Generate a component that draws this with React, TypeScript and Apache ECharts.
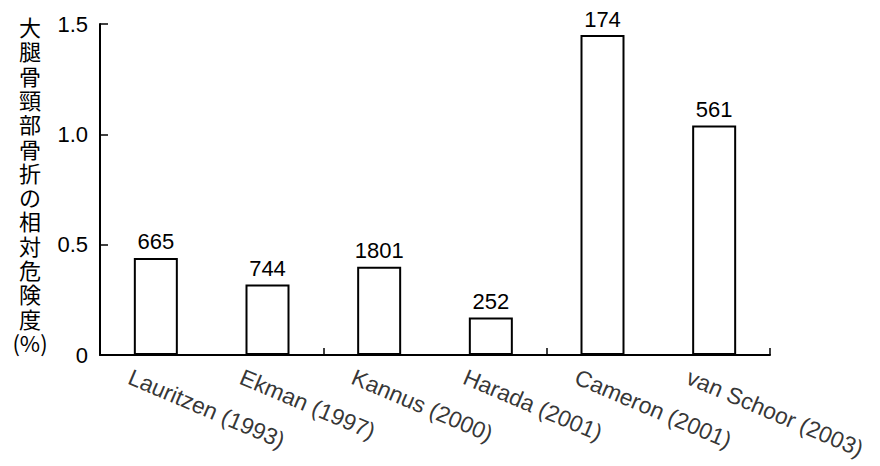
import React, { useEffect, useRef } from "react";
import * as echarts from "echarts";

const categories = [
  "Lauritzen (1993)",
  "Ekman (1997)",
  "Kannus (2000)",
  "Harada (2001)",
  "Cameron (2001)",
  "van Schoor (2003)",
];
const relativeRisk = [0.44, 0.32, 0.4, 0.17, 1.45, 1.04];
const sampleSizes = ["665", "744", "1801", "252", "174", "561"];
const yTitleChars = ["大", "腿", "骨", "頸", "部", "骨", "折", "の", "相", "対", "危", "険", "度", "(%)"];

const LATIN = "'Liberation Sans', Arial, Helvetica, sans-serif";
const CJK = "'Noto Sans CJK JP', 'Noto Sans', sans-serif";

export default function App() {
  const ref = useRef<HTMLDivElement>(null);
  useEffect(() => {
    if (!ref.current) return;
    const chart = echarts.init(ref.current, undefined, { renderer: "svg" });
    chart.setOption({
      animation: false,
      backgroundColor: "#ffffff",
      grid: { left: 100, right: 110, top: 24, bottom: 111, containLabel: false },
      xAxis: {
        type: "category",
        data: categories,
        axisLine: { lineStyle: { color: "#000", width: 2 } },
        axisTick: { show: true, inside: true, length: 7, lineStyle: { color: "#000", width: 1.5 } },
        axisLabel: { show: false },
        splitLine: { show: false },
      },
      yAxis: {
        type: "value",
        min: 0,
        max: 1.5,
        interval: 0.5,
        axisLine: { show: true, lineStyle: { color: "#000", width: 2 } },
        axisTick: { show: true, inside: true, length: 8, lineStyle: { color: "#000", width: 1.5 } },
        axisLabel: {
          color: "#000",
          fontSize: 22,
          fontFamily: LATIN,
          margin: 12,
          formatter: (v: number) => (v === 0 ? "0" : v.toFixed(1)),
        },
        splitLine: { show: false },
      },
      series: [
        {
          type: "bar",
          data: relativeRisk.map((v, i) => ({
            value: v,
            label: { formatter: sampleSizes[i] },
          })),
          barWidth: 44,
          itemStyle: { color: "#ffffff", borderColor: "#000", borderWidth: 2 },
          label: {
            show: true,
            position: "top",
            distance: 5,
            color: "#000",
            fontSize: 22,
            fontFamily: LATIN,
          },
        },
        {
          type: "scatter",
          data: categories.map(() => 0),
          symbolSize: 0,
          clip: false,
          silent: true,
          label: {
            show: true,
            position: "inside",
            formatter: (p: any) => p.name,
            rotate: -23,
            align: "left",
            verticalAlign: "top",
            offset: [-16, 18],
            color: "#000",
            fontSize: 23,
            fontFamily: LATIN,
          },
        },
      ],
      graphic: yTitleChars.map((ch, i) => ({
        type: "text",
        x: 30,
        y: 14 + i * 24.3,
        style: {
          text: ch,
          fontSize: 22,
          lineHeight: 24,
          fontFamily: CJK,
          fill: "#000",
          align: "center",
          verticalAlign: "top",
        },
      })),
    });
    return () => chart.dispose();
  }, []);
  return (
    <div
      ref={ref}
      style={{ position: "absolute", left: 0, top: 0, width: 880, height: 466 }}
    />
  );
}
